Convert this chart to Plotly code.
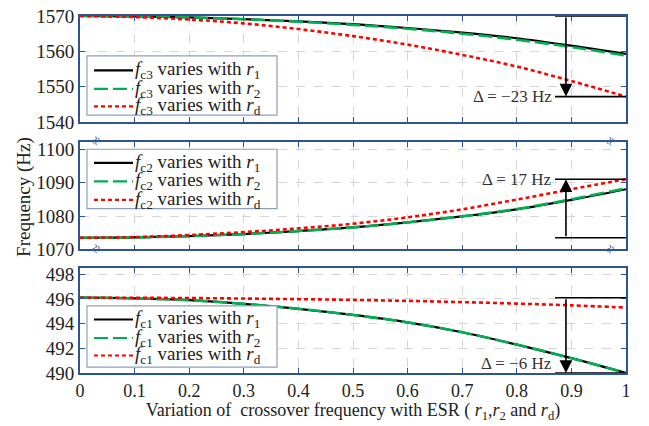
import plotly.graph_objects as go

# ---------------- data ----------------
x = [0, 0.1, 0.2, 0.3, 0.4, 0.5, 0.6, 0.7, 0.8, 0.9, 1.0]

fc3_r1 = [1570, 1569.9, 1569.6, 1569.1, 1568.5, 1567.7, 1566.6, 1565.3, 1563.7, 1561.6, 1559.3]
fc3_r2 = [1570, 1569.9, 1569.6, 1569.1, 1568.4, 1567.5, 1566.4, 1565.0, 1563.3, 1561.2, 1558.8]
fc3_rd = [1570, 1569.7, 1569.0, 1567.9, 1566.3, 1564.3, 1561.9, 1559.0, 1555.7, 1551.6, 1547.2]

fc2_r1 = [1073.5, 1073.6, 1074.0, 1074.6, 1075.5, 1076.6, 1078.1, 1079.9, 1082.0, 1084.8, 1088.0]
fc2_r2 = [1073.5, 1073.6, 1074.0, 1074.6, 1075.5, 1076.6, 1078.1, 1079.9, 1082.1, 1085.0, 1088.3]
fc2_rd = [1073.5, 1073.7, 1074.3, 1075.2, 1076.3, 1077.7, 1079.6, 1082.0, 1084.9, 1088.0, 1091.0]

fc1_r1 = [496.1, 496.05, 495.9, 495.6, 495.2, 494.7, 494.1, 493.3, 492.3, 491.2, 490.0]
fc1_r2 = [496.1, 496.05, 495.9, 495.6, 495.2, 494.7, 494.1, 493.3, 492.3, 491.2, 490.0]
fc1_rd = [496.1, 496.09, 496.07, 496.03, 495.98, 495.92, 495.84, 495.74, 495.62, 495.48, 495.3]

deltas = [-23, 17, -6]  # labels for fc3, fc2, fc1
subs = ["c3", "c2", "c1"]
var_names = ["1", "2", "d"]

# ---------------- style ----------------
FONT = "Times New Roman, Liberation Serif, serif"
AXC = "#2e5493"
BLACK = "#000000"
GREEN = "#00b050"
RED = "#ff0000"

W, H = 649, 426
ML, MR, MT, MB = 80, 23, 6, 53
PW, PH = W - ML - MR, H - MT - MB


def px(xp):
    return (xp - ML) / PW


def py(yp):
    return (H - MB - yp) / PH


fig = go.Figure()

panels = [
    (subs[0], (fc3_r1, fc3_r2, fc3_rd), "x3", "y3"),
    (subs[1], (fc2_r1, fc2_r2, fc2_rd), "x2", "y2"),
    (subs[2], (fc1_r1, fc1_r2, fc1_rd), "x", "y"),
]
line_styles = [
    dict(color=BLACK, width=2.2, dash="solid"),
    dict(color=GREEN, width=2.6, dash="14px,5px"),
    dict(color=RED, width=2.6, dash="4px,3px"),
]
for sub, series, xa, ya in panels:
    for vn, line, yv in zip(var_names, line_styles, series):
        fig.add_trace(go.Scatter(
            x=x, y=yv, mode="lines", line=dict(shape="spline", **line),
            name=f"f{sub} varies with r{vn}", showlegend=False,
            xaxis=xa, yaxis=ya,
        ))

axis_common = dict(
    showline=True, linecolor=AXC, linewidth=1.8, mirror="allticks",
    ticks="inside", ticklen=5, tickcolor=AXC, tickwidth=1.2,
    showgrid=True, gridcolor="#d6d6d6", griddash="dash", gridwidth=1,
    zeroline=False, ticklabeloverflow="allow",
)
yfont = dict(family=FONT, size=19, color="#222")
xfont = dict(family=FONT, size=18, color="#222")

fig.update_layout(
    width=W, height=H,
    margin=dict(l=ML, r=MR, t=MT, b=MB),
    plot_bgcolor="white", paper_bgcolor="white",
    font=dict(family=FONT, size=17, color="#222"),
    showlegend=False,
    xaxis=dict(domain=[0, 1], anchor="y", range=[0, 1], dtick=0.1, tickfont=xfont, **axis_common,
               title=dict(text="Variation of  crossover frequency with ESR ( <i>r</i><sub>1</sub>,<i>r</i><sub>2</sub> and <i>r</i><sub>d</sub>)",
                          font=dict(family=FONT, size=18, color="#222"), standoff=0)),
    xaxis2=dict(domain=[0, 1], anchor="y2", range=[0, 1], dtick=0.1, showticklabels=False, **axis_common),
    xaxis3=dict(domain=[0, 1], anchor="y3", range=[0, 1], dtick=0.1, showticklabels=False, **axis_common),
    yaxis=dict(domain=[0, 0.294], anchor="x", range=[490, 498.5], dtick=2, tickfont=yfont, **axis_common),
    yaxis2=dict(domain=[0.346, 0.646], anchor="x2", range=[1070, 1102], dtick=10, tickfont=yfont, **axis_common),
    yaxis3=dict(domain=[0.703, 1.0], anchor="x3", range=[1540, 1570], dtick=10, tickfont=yfont, **axis_common),
)

# ---------------- hand-drawn legends (one per panel) ----------------
legend_boxes = [  # (top px, bottom px, row centers px)
    (47, 108, (62, 81, 99)),
    (143, 204, (157, 176, 195)),
    (304, 367, (318, 337, 355)),
]
BOX_X0, BOX_X1 = 87, 277
SAMPLE_X0, SAMPLE_X1, TEXT_X = 94, 133, 133
for sub, (top, bot, rows) in zip(subs, legend_boxes):
    fig.add_shape(type="rect", xref="paper", yref="paper",
                  x0=px(BOX_X0), x1=px(BOX_X1), y0=py(bot), y1=py(top),
                  fillcolor="white", line=dict(color="#8da0bb", width=1.2), layer="above")
    for vn, line, ry in zip(var_names, line_styles, rows):
        fig.add_shape(type="line", xref="paper", yref="paper",
                      x0=px(SAMPLE_X0), x1=px(SAMPLE_X1), y0=py(ry), y1=py(ry),
                      line=dict(color=line["color"], width=2.2, dash=line["dash"]), layer="above")
        fig.add_annotation(xref="paper", yref="paper", x=px(TEXT_X), y=py(ry),
                           xanchor="left", yanchor="middle", showarrow=False,
                           height=18, valign="middle",
                           text=f"<i>f</i><sub>{sub}</sub> varies with <i>r</i><sub>{vn}</sub>",
                           font=dict(family=FONT, size=19, color="#222"))

# y-axis shared title
fig.add_annotation(text="Frequency (Hz)", xref="paper", yref="paper", x=px(24), y=py(192),
                   textangle=-90, showarrow=False, xanchor="center", yanchor="middle",
                   font=dict(family=FONT, size=19, color="#222"))

# ---------------- Delta arrows ----------------
AX_X = 0.89
LINE_X0 = 0.87
arrow_specs = [
    ("x3", "y3", fc3_rd[0], fc3_rd[-1], deltas[0], "middle"),
    ("x2", "y2", fc2_rd[0], fc2_rd[-1], deltas[1], "middle"),
    ("x", "y", fc1_r1[0], fc1_r1[-1], deltas[2], "bottom"),
]
for xa, ya, y0, y1, d, lab_anchor in arrow_specs:
    for yy in (y0, y1):
        fig.add_shape(type="line", xref=xa, yref=ya, x0=LINE_X0, x1=1, y0=yy, y1=yy,
                      line=dict(color="black", width=1.6))
    fig.add_annotation(xref=xa, yref=ya, axref=xa, ayref=ya, x=AX_X, y=y1, ax=AX_X, ay=y0,
                       text="", showarrow=True, arrowhead=2, arrowsize=1.6, arrowwidth=1.6,
                       arrowcolor="black")
    fig.add_annotation(xref=xa, yref=ya, x=LINE_X0 - 0.002, y=y1,
                       text=f"Δ = {'−' if d < 0 else ''}{abs(d)} Hz", showarrow=False,
                       xanchor="right", yanchor=lab_anchor, yshift=-2 if lab_anchor == "bottom" else 0,
                       font=dict(family=FONT, size=17, color="#333"))

# axis break marks
for yb in (py(124), py(256)):
    for xb in (px(84), px(622)):
        fig.add_annotation(xref="paper", yref="paper", x=xb, y=yb, text="≈", textangle=-60,
                           showarrow=False, font=dict(family=FONT, size=15, color=AXC))

fig.write_html("out.html")
